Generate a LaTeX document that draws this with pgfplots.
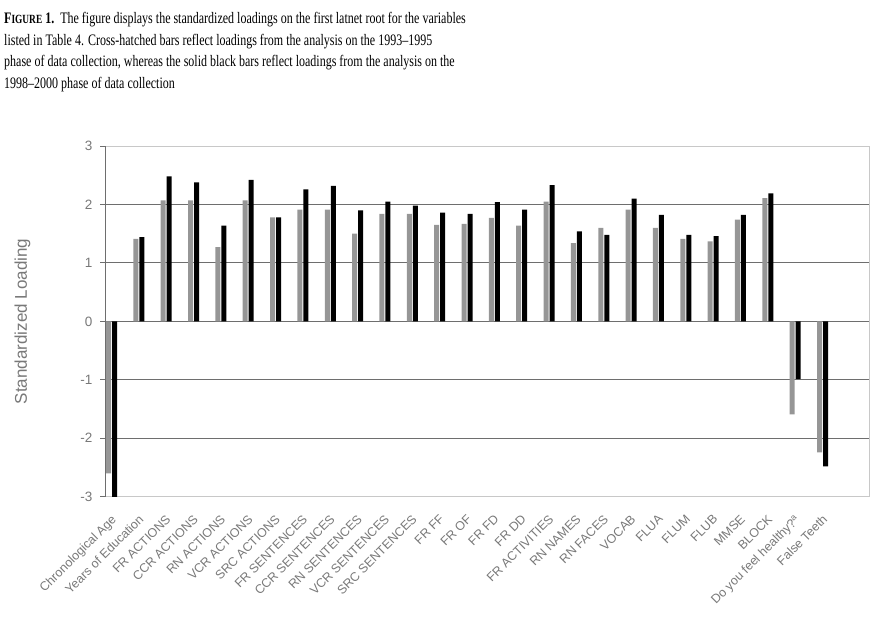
\documentclass[border=0pt]{standalone}
\usepackage{pgfplots}
\pgfplotsset{compat=1.18}
\usepackage{pgfplotstable}
\usepackage{fontspec}
\setmainfont{Liberation Serif}
\newfontfamily\arialf{Liberation Sans}
\definecolor{barg}{RGB}{150,150,150}
\definecolor{gridc}{RGB}{110,110,110}
\definecolor{framec}{RGB}{200,200,200}
\definecolor{labc}{RGB}{120,120,120}
\pgfplotstableread{
idx grey black
0 -2.60 -3.05
1 1.41 1.44
2 2.07 2.48
3 2.07 2.38
4 1.27 1.64
5 2.07 2.42
6 1.78 1.78
7 1.91 2.26
8 1.91 2.32
9 1.50 1.90
10 1.84 2.05
11 1.84 1.98
12 1.65 1.86
13 1.67 1.84
14 1.77 2.04
15 1.64 1.91
16 2.05 2.33
17 1.34 1.54
18 1.60 1.48
19 1.91 2.10
20 1.60 1.82
21 1.41 1.48
22 1.37 1.46
23 1.74 1.82
24 2.11 2.19
25 -1.59 -0.99
26 -2.24 -2.48
}\loadings
\newcommand\capline[1]{\scalebox{0.75}[1]{\fontsize{16}{18}\selectfont #1}}
\begin{document}
\begin{tikzpicture}
\path[use as bounding box] (0pt,0pt) rectangle (883pt,-619pt);
\node[anchor=base west,inner sep=0] at (4pt,-23pt) {\capline{\textbf{F{\fontsize{12.5}{14}\selectfont IGURE} 1.}\ \ The figure displays the standardized loadings on the first latnet root for the variables}};
\node[anchor=base west,inner sep=0] at (4pt,-45pt) {\capline{listed in Table 4. Cross-hatched bars reflect loadings from the analysis on the 1993--1995}};
\node[anchor=base west,inner sep=0] at (4pt,-66.5pt) {\capline{phase of data collection, whereas the solid black bars reflect loadings from the analysis on the}};
\node[anchor=base west,inner sep=0] at (4pt,-88pt) {\capline{1998--2000 phase of data collection}};
\begin{axis}[
  at={(105pt,-496.7pt)}, anchor=south west,
  scale only axis, width=764pt, height=350.7pt,
  xmin=-0.238, xmax=27.70, ymin=-3, ymax=3,
  ybar, bar width=5pt,
  axis line style={framec, line width=1pt},
  ytick={-3,-2,-1,0,1,2,3},
  extra y ticks={-2,-1,0,1,2},
  extra y tick labels={},
  extra y tick style={grid=major, major tick length=0pt, ymajorgrids=true},
  grid style={gridc, line width=1.1pt},
  ytick pos=left, ytick align=outside, xtick align=inside,
  major tick length=5pt,
  y tick style={gridc, line width=1pt},
  xtick={0,...,26},
  x tick style={draw=none},
  xticklabels={Chronological Age, Years of Education, FR ACTIONS, CCR ACTIONS, RN ACTIONS, VCR ACTIONS, SRC ACTIONS, FR SENTENCES, CCR SENTENCES, RN SENTENCES, VCR SENTENCES, SRC SENTENCES, FR FF, FR OF, FR FD, FR DD, FR ACTIVITIES, RN NAMES, RN FACES, VOCAB, FLUA, FLUM, FLUB, MMSE, BLOCK, Do you feel healthy?\textsuperscript{a}, False Teeth},
  xticklabel style={font=\arialf\fontsize{12.5}{13}\selectfont, text=labc, xshift=-1pt, yshift=-17pt, rotate=45, anchor=north east, inner sep=0pt},
  yticklabel style={font=\arialf\fontsize{13.5}{13.5}\selectfont, text=labc, xshift=-4pt},
  /pgf/number format/assume math mode=true,
  ylabel={Standardized Loading},
  ylabel style={font=\arialf\fontsize{17}{17}\selectfont, text=labc, at={(rel axis cs:-0.108,0.5)}, anchor=center, rotate=0},
  clip=true,
]
\addplot[draw=none, fill=barg, bar shift=-3pt] table[x=idx,y=grey]{\loadings};
\addplot[draw=none, fill=black, bar shift=3pt] table[x=idx,y=black]{\loadings};
\draw[gridc, line width=1.2pt] (rel axis cs:0,0) -- (rel axis cs:0,1);
\end{axis}
\end{tikzpicture}
\end{document}
